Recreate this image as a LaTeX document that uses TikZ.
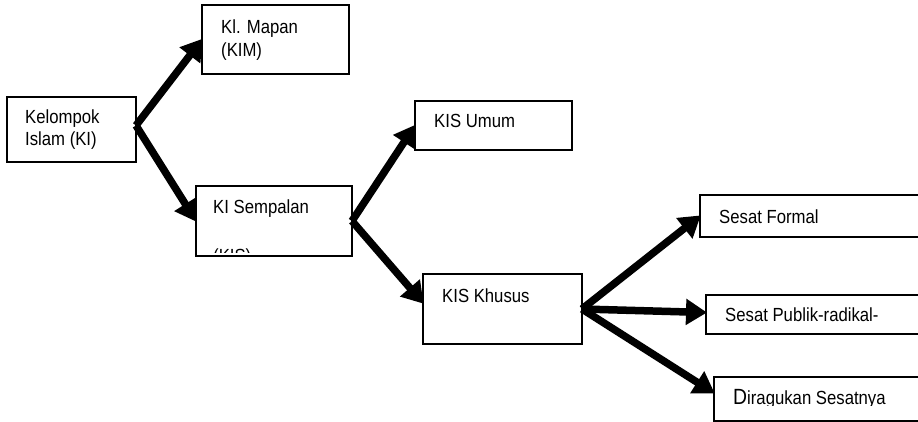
\documentclass[tikz,border=0pt]{standalone}
\usepackage{fontspec}
\setmainfont{Liberation Sans}[FakeStretch=0.88]
\usetikzlibrary{arrows.meta,calc}
\tikzset{
  box/.style={draw=black, line width=1.4pt, fill=white, anchor=north west, inner sep=0pt, outer sep=0pt},
  txt/.style={anchor=base west, inner sep=0pt, font=\fontsize{19}{22}\selectfont},
  conn/.style={line width=7.5pt, -{Triangle[length=21pt,width=25pt]}, shorten >=-1pt},
}
\begin{document}
\begin{tikzpicture}[x=1pt,y=-1pt]
\useasboundingbox (0,0) rectangle (918,422);
\clip (0,0) rectangle (918,422);
% boxes
\node[box, minimum width=129pt, minimum height=65pt] (ki) at (7,97) {};
\node[box, minimum width=147pt, minimum height=69pt] (kim) at (202,5) {};
\node[box, minimum width=156pt, minimum height=70pt] (kis) at (196,186) {};
\node[box, minimum width=157pt, minimum height=49pt] (umum) at (415,101) {};
\node[box, minimum width=159pt, minimum height=70pt] (khusus) at (423,274) {};
\node[box, minimum width=240pt, minimum height=42pt] (formal) at (700,195) {};
\node[box, minimum width=240pt, minimum height=39pt] (publik) at (706,295) {};
\node[box, minimum width=240pt, minimum height=44pt] (ragu) at (714,377) {};
% texts
\node[txt] (t1) at (25,124) {Kelompok};
\node[txt] (t2) at (25,146) {Islam (KI)};
\node[txt] (t3) at (221,34) {Kl. Mapan};
\node[txt] (t4) at (221,57) {(KIM)};
\node[txt] (t5) at (213,214) {KI Sempalan};
\begin{scope}
  \clip (197,187) rectangle (351,252);
  \node[txt] (t6) at (213,262) {(KIS)};
\end{scope}
\node[txt] (t7) at (434,128) {KIS Umum};
\node[txt] (t8) at (442,302) {KIS Khusus};
\node[txt] (t9) at (719,223) {Sesat Formal};
\node[txt] (t10) at (725,321) {Sesat Publik-radikal-};
\begin{scope}
  \clip (715,378) rectangle (918,405);
  \node[txt] (t11) at (733,404) {{\fontsize{22}{22}\selectfont D}iragukan Sesatnya};
\end{scope}
% connectors
\coordinate (s1) at ($(ki.east)+(0,-4)$);
\draw[conn] (s1) -- (kim.west);
\draw[conn] (s1) -- (kis.west);
\coordinate (s2) at (kis.east);
\draw[conn] (s2) -- (umum.west);
\draw[conn] (s2) -- ($(khusus.west)+(0,-6)$);
\coordinate (s3) at (khusus.east);
\draw[conn] (s3) -- (formal.west);
\draw[conn] (s3) -- ($(publik.west)+(0,-2)$);
\draw[conn] (s3) -- ($(ragu.west)+(0,-6)$);
\end{tikzpicture}
\end{document}
